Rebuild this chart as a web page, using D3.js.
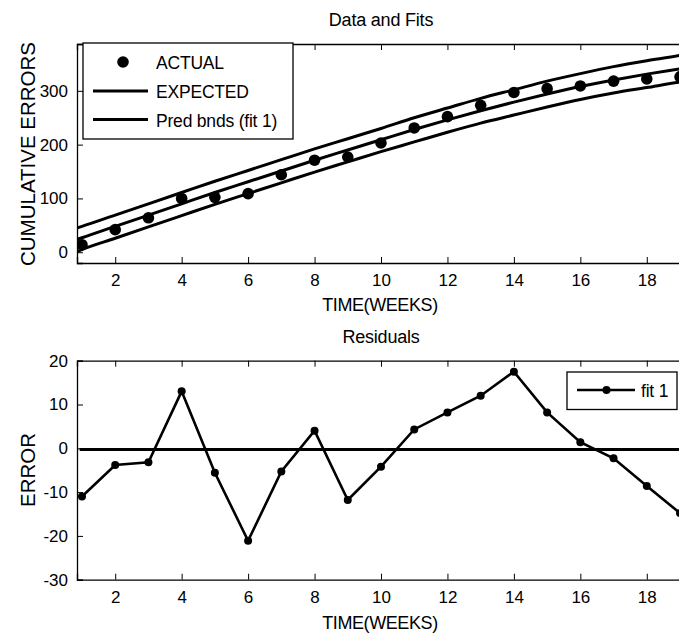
<!DOCTYPE html>
<html>
<head>
<meta charset="utf-8">
<script src="https://cdn.jsdelivr.net/npm/d3@7"></script>
<style>
  body { margin: 0; background: #fff; }
  text { font-family: "Liberation Sans", Arial, sans-serif; fill: #000; }
</style>
</head>
<body>
<div id="chart"></div>
<script>
// data
const weeks = [1, 2, 3, 4, 5, 6, 7, 8, 9, 10, 11, 12, 13, 14, 15, 16, 17, 18, 19];
const actual = [14, 42, 64, 100, 102, 109, 144, 171, 177, 203, 231, 252, 273, 297, 304, 309, 318, 322, 326];
const residuals = [-11, -3.8, -3.2, 13, -5.6, -21.1, -5.3, 4, -11.8, -4.2, 4.3, 8.2, 12, 17.5, 8.2, 1.4, -2.3, -8.6, -14.8];

const fitWeeks = [0.85, 1, 2, 3, 4, 5, 6, 7, 8, 9, 10, 11, 12, 13, 14, 15, 16, 17, 18, 19, 19.15];
const expected = [24, 27, 48, 69, 90, 111, 131, 151, 171, 190, 209, 228, 246, 263, 279, 294, 308, 320, 331, 341, 342.5];
const upperBnd = [45, 48, 69, 90, 111, 132, 152, 172, 192, 211, 230, 250, 268, 286, 302, 318, 332, 345, 356, 366, 368];
const lowerBnd = [1, 5, 26, 47, 68, 89, 109, 129, 149, 168, 187, 205, 223, 240, 255, 270, 284, 296, 306, 316, 317];

const xTicks = [2, 4, 6, 8, 10, 12, 14, 16, 18];
const topYTicks = [0, 100, 200, 300];
const botYTicks = [-30, -20, -10, 0, 10, 20];

let width = 679;
let height = 637;
let plotLeft = 77;
let plotRight = 685;
let tickLen = 6;

let svg = d3.select("#chart")
  .append("svg")
  .attr("width", width)
  .attr("height", height)
  .style("display", "block")
  .style("overflow", "hidden");

let x = d3.scaleLinear().domain([0.85, 19.15]).range([plotLeft, plotRight]);
let yTop = d3.scaleLinear().domain([-20, 387]).range([263, 44]);
let yBot = d3.scaleLinear().domain([-30, 20]).range([579.7, 360.7]);

// plain hyphen minus like the original
let fmt = d => String(d);

// draws box, inward ticks and tick labels for one panel
function drawFrame(y, yTicks, id) {
  let [y0, y1] = y.range();
  let g = svg.append("g");

  g.append("clipPath").attr("id", id)
    .append("rect")
    .attr("x", plotLeft).attr("y", y1)
    .attr("width", plotRight - plotLeft).attr("height", y0 - y1);

  g.append("g")
    .attr("transform", "translate(0," + y0 + ")")
    .call(d3.axisBottom(x).tickValues(xTicks).tickSize(-tickLen).tickPadding(11).tickFormat(fmt));
  g.append("g")
    .attr("transform", "translate(0," + y1 + ")")
    .call(d3.axisTop(x).tickValues(xTicks).tickSize(-tickLen).tickFormat(""));
  g.append("g")
    .attr("transform", "translate(" + plotLeft + ",0)")
    .call(d3.axisLeft(y).tickValues(yTicks).tickSize(-tickLen).tickPadding(9).tickFormat(fmt));
  g.append("g")
    .attr("transform", "translate(" + plotRight + ",0)")
    .call(d3.axisRight(y).tickValues(yTicks).tickSize(-tickLen).tickFormat(""));

  g.selectAll(".domain").attr("stroke", "#000").attr("stroke-width", 1.3);
  g.selectAll(".tick line").attr("stroke", "#000");
  g.selectAll(".tick text")
    .style("font-size", "17px")
    .style("font-family", "'Liberation Sans', Arial, sans-serif")
    .attr("fill", "#000");
  return g;
}

// ---- top panel: data and fits ----
drawFrame(yTop, topYTicks, "clipTop");

let fitLine = d3.line()
  .x((d, i) => x(fitWeeks[i]))
  .y(d => yTop(d))
  .curve(d3.curveMonotoneX);

let topPlot = svg.append("g").attr("clip-path", "url(#clipTop)");
[upperBnd, expected, lowerBnd].forEach(arr => {
  topPlot.append("path")
    .attr("d", fitLine(arr))
    .attr("fill", "none")
    .attr("stroke", "#000")
    .attr("stroke-width", 3);
});

topPlot.selectAll("circle")
  .data(actual)
  .join("circle")
  .attr("cx", (d, i) => x(weeks[i]))
  .attr("cy", d => yTop(d))
  .attr("r", 5.8)
  .attr("fill", "#000");

svg.append("text")
  .attr("x", 381).attr("y", 26)
  .attr("text-anchor", "middle")
  .style("font-size", "18px")
  .style("letter-spacing", "-0.2px")
  .text("Data and Fits");

svg.append("text")
  .attr("x", 380).attr("y", 311)
  .attr("text-anchor", "middle")
  .style("font-size", "18px")
  .style("letter-spacing", "-0.4px")
  .text("TIME(WEEKS)");

svg.append("text")
  .attr("transform", "translate(35,154)rotate(-90)")
  .attr("text-anchor", "middle")
  .style("font-size", "20.5px")
  .text("CUMULATIVE ERRORS");

// legend top
let legTop = svg.append("g");
legTop.append("rect")
  .attr("x", 83).attr("y", 43)
  .attr("width", 210).attr("height", 96)
  .attr("fill", "#fff").attr("stroke", "#000").attr("stroke-width", 1.3);
legTop.append("circle").attr("cx", 123).attr("cy", 62).attr("r", 5.8).attr("fill", "#000");
[91, 119.5].forEach(ly => {
  legTop.append("line")
    .attr("x1", 93).attr("x2", 148).attr("y1", ly).attr("y2", ly)
    .attr("stroke", "#000").attr("stroke-width", 3);
});
["ACTUAL", "EXPECTED", "Pred bnds (fit 1)"].forEach((t, i) => {
  legTop.append("text")
    .attr("x", 156).attr("y", 68.5 + i * 29)
    .style("font-size", "17.5px")
    .style("letter-spacing", "-0.2px")
    .text(t);
});

// ---- bottom panel: residuals ----
drawFrame(yBot, botYTicks, "clipBot");

let botPlot = svg.append("g").attr("clip-path", "url(#clipBot)");
botPlot.append("line")
  .attr("x1", x(0.93)).attr("x2", x(19.15))
  .attr("y1", yBot(-0.3)).attr("y2", yBot(-0.3))
  .attr("stroke", "#000").attr("stroke-width", 3);

let resLine = d3.line()
  .x((d, i) => x(weeks[i]))
  .y(d => yBot(d));

botPlot.append("path")
  .attr("d", resLine(residuals))
  .attr("fill", "none")
  .attr("stroke", "#000")
  .attr("stroke-width", 2.6);

botPlot.selectAll("circle")
  .data(residuals)
  .join("circle")
  .attr("cx", (d, i) => x(weeks[i]))
  .attr("cy", d => yBot(d))
  .attr("r", 4)
  .attr("fill", "#000");

svg.append("text")
  .attr("x", 381).attr("y", 343)
  .attr("text-anchor", "middle")
  .style("font-size", "18px")
  .style("letter-spacing", "-0.2px")
  .text("Residuals");

svg.append("text")
  .attr("x", 380).attr("y", 629)
  .attr("text-anchor", "middle")
  .style("font-size", "18px")
  .style("letter-spacing", "-0.4px")
  .text("TIME(WEEKS)");

svg.append("text")
  .attr("transform", "translate(35,470)rotate(-90)")
  .attr("text-anchor", "middle")
  .style("font-size", "20.5px")
  .text("ERROR");

// legend bottom
let legBot = svg.append("g");
legBot.append("rect")
  .attr("x", 567).attr("y", 372)
  .attr("width", 110).attr("height", 37.5)
  .attr("fill", "#fff").attr("stroke", "#000").attr("stroke-width", 1.3);
legBot.append("line")
  .attr("x1", 577).attr("x2", 635).attr("y1", 390).attr("y2", 390)
  .attr("stroke", "#000").attr("stroke-width", 2.6);
legBot.append("circle").attr("cx", 606.5).attr("cy", 390).attr("r", 4).attr("fill", "#000");
legBot.append("text")
  .attr("x", 641).attr("y", 396.5)
  .style("font-size", "17.5px")
  .style("letter-spacing", "-0.2px")
  .text("fit 1");
</script>
</body>
</html>
